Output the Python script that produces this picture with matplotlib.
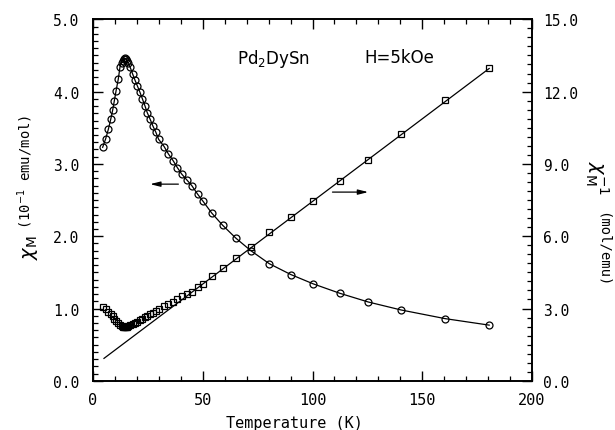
import matplotlib
matplotlib.use("Agg")
import matplotlib.pyplot as plt
from matplotlib.ticker import MultipleLocator, FormatStrFormatter

# Molar susceptibility of Pd2DySn measured in H = 5 kOe
temperature = [4.4, 5.8, 7.0, 8.1, 9.0, 9.7, 10.5, 11.5, 12.3, 13.0, 13.5, 14.0,
               14.5, 15.0, 15.5, 16.0, 16.9, 18.1, 19.1, 20.2, 21.4, 22.5, 23.7,
               24.7, 26.0, 27.2, 28.6, 29.9, 32.4, 34.3, 36.6, 38.4, 40.4, 42.7,
               45.0, 47.7, 50.2, 54.1, 59.1, 65.2, 71.9, 80.3, 90.1, 100.4, 112.5,
               125.4, 140.3, 160.4, 180.5]

# chi_M in units of 1e-1 emu/mol
chi_m = [3.23, 3.35, 3.48, 3.62, 3.75, 3.87, 4.01, 4.17, 4.34, 4.40, 4.43, 4.45,
         4.46, 4.45, 4.43, 4.39, 4.34, 4.24, 4.16, 4.08, 3.99, 3.90, 3.80,
         3.71, 3.62, 3.53, 3.44, 3.34, 3.24, 3.14, 3.04, 2.95, 2.86, 2.78,
         2.70, 2.58, 2.48, 2.32, 2.15, 1.97, 1.80, 1.62, 1.47, 1.34, 1.21,
         1.09, 0.98, 0.86, 0.77]

# inverse susceptibility in mol/emu
chi_inv = [3.08, 2.99, 2.87, 2.76, 2.67, 2.58, 2.49, 2.39, 2.30, 2.26, 2.24, 2.23,
           2.22, 2.23, 2.24, 2.27, 2.30, 2.36, 2.40, 2.45, 2.51, 2.56, 2.63,
           2.70, 2.76, 2.83, 2.91, 2.99, 3.09, 3.18, 3.29, 3.39, 3.50, 3.60,
           3.70, 3.88, 4.03, 4.33, 4.67, 5.08, 5.57, 6.18, 6.80, 7.47, 8.27,
           9.17, 10.24, 11.66, 12.96]

# Curie-Weiss fit of the inverse susceptibility
fit_temperature = [5.0, 180.5]
fit_inverse = [0.93, 12.96]

x_limits = (0, 200)
left_limits = (0, 5)
right_limits = (0, 15)

plt.rcParams['font.family'] = ['DejaVu Sans Mono', 'DejaVu Sans']
plt.rcParams['mathtext.fontset'] = 'dejavusans'

fig = plt.figure(figsize=(6.15, 4.31), dpi=100)
fig.patch.set_facecolor('white')
ax = fig.add_axes([93 / 615, 1 - 381.8 / 431, 439 / 615, 361.5 / 431])
ax2 = ax.twinx()

line_kw = dict(color='black', lw=0.9)
ax.plot(temperature, chi_m, '-', marker='o', ms=5.0, mfc='none', mec='black',
        mew=0.9, **line_kw)
ax2.plot(temperature, chi_inv, linestyle='none', marker='s', ms=4.2, mfc='none',
         mec='black', mew=0.9)
ax2.plot(fit_temperature, fit_inverse, '-', **line_kw)

ax.set_xlim(*x_limits)
ax.set_ylim(*left_limits)
ax2.set_ylim(*right_limits)

ax.xaxis.set_major_locator(MultipleLocator(50))
ax.xaxis.set_minor_locator(MultipleLocator(10))
ax.yaxis.set_major_locator(MultipleLocator(1.0))
ax.yaxis.set_minor_locator(MultipleLocator(0.1))
ax.yaxis.set_major_formatter(FormatStrFormatter('%.1f'))
ax2.yaxis.set_major_locator(MultipleLocator(3.0))
ax2.yaxis.set_minor_locator(MultipleLocator(0.375))
ax2.yaxis.set_major_formatter(FormatStrFormatter('%.1f'))

ax.tick_params(axis='x', which='both', direction='in', top=True, bottom=True,
               labelsize=11, pad=8)
ax.tick_params(axis='y', which='both', direction='in', left=True, right=False,
               labelsize=10.5, pad=10)
ax2.tick_params(axis='y', which='both', direction='in', right=True, left=False,
                labelsize=10.5, pad=8)
for a in (ax, ax2):
    a.tick_params(which='major', length=7, width=1.0)
    a.tick_params(which='minor', length=3.5, width=0.9)
    for s in a.spines.values():
        s.set_linewidth(1.2)

ax.set_xlabel('Temperature (K)', fontsize=11)
ax.xaxis.set_label_coords(0.458, -0.095)

# Axis titles built from a large chi symbol and smaller unit text
fig.text(30 / 615, 1 - 248 / 431, r'$\chi_{\rm M}$', rotation=90, fontsize=14,
         ha='center', va='center')
fig.text(25 / 615, 1 - 172 / 431, r'(10$^{-1}$ emu/mol)', rotation=90,
         fontsize=10, ha='center', va='center')
fig.text(597 / 615, 1 - 178 / 431, r'$\chi_{\rm M}^{-1}$', rotation=-90,
         fontsize=14, ha='center', va='center')
fig.text(603 / 615, 1 - 250 / 431, '(mol/emu)', rotation=-90, fontsize=10,
         ha='center', va='center')

ax.text(65.5, 4.46, r'Pd$_2$DySn', fontfamily='DejaVu Sans', fontsize=12,
        ha='left', va='center')
ax.text(123.5, 4.48, 'H=5kOe', fontfamily='DejaVu Sans', fontsize=12,
        ha='left', va='center')

arrow_kw = dict(arrowstyle='-|>,head_length=0.6,head_width=0.15', color='black',
                lw=0.9, shrinkA=0, shrinkB=0)
ax.annotate('', xy=(26.0, 2.72), xytext=(38.9, 2.72), arrowprops=arrow_kw)
ax.annotate('', xy=(125.4, 2.61), xytext=(109.1, 2.61), arrowprops=arrow_kw)

fig.savefig('out.png', dpi=100)
